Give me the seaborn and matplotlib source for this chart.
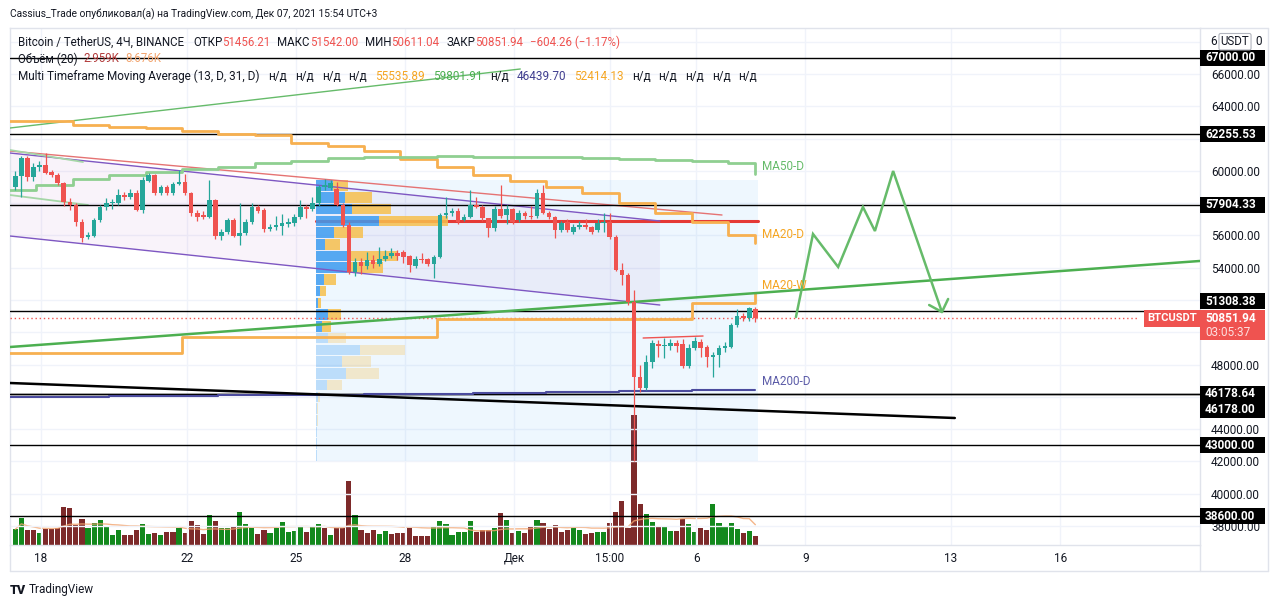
import numpy as np
import pandas as pd
import matplotlib
matplotlib.use("Agg")
import matplotlib.pyplot as plt
import seaborn as sns
from matplotlib.patches import Rectangle, Polygon
from matplotlib.lines import Line2D
from matplotlib.transforms import blended_transform_factory

sns.set_theme(style="white")
plt.rcParams["font.family"] = ["Roboto", "DejaVu Sans"]

# ---------------- data ----------------
T0 = pd.Timestamp("2021-11-18 00:00")
candle_start = "2021-11-17 07:00"

opens = [59020, 59700, 60780, 59640, 60220, 60360, 59950, 59740, 59230, 58090,
         57880, 56850, 55880, 55960, 56950, 57780, 57990, 57990, 58500, 58360,
         58610, 57570, 59390, 59740, 58650, 58980, 58650, 59190, 59330, 58610,
         57370, 57260, 57160, 58190, 55960, 56230, 56950, 55960, 56130, 56850,
         57740, 57570, 56380, 56500, 56580, 56710, 56790, 57120, 57740, 57620,
         57990, 59020, 58920, 58900, 57880, 56640, 53750, 54370, 54100, 54480,
         54200, 54520, 54700, 54900, 54990, 54720, 54100, 54520, 54520, 54230,
         54680, 57260, 57370, 57530, 56950, 57160, 57880, 57780, 57060, 56440,
         57620, 57260, 57610, 56950, 57410, 57200, 57200, 58610, 57410, 57160,
         56340, 56850, 56230, 56500, 56620, 56540, 56340, 56750, 56850, 55920,
         53860, 53550, 51900, 47250, 46530, 48180, 49270, 49150, 49150, 49310,
         49270, 47910, 49000, 49420, 49100, 48490, 48590, 49000, 49100, 50450,
         51010, 50860, 51456.21]
highs = [60000, 60900, 60900, 60500, 60600, 61080, 60050, 59850, 59300, 58300,
         58000, 57000, 56200, 57100, 57900, 58300, 58250, 58900, 58700, 58900,
         58800, 59600, 59850, 59800, 59150, 59100, 59300, 60050, 59800, 58700,
         57600, 57500, 59430, 58250, 56400, 57100, 57100, 57990, 57000, 57990,
         57900, 57700, 56700, 57200, 57300, 57100, 57300, 58200, 57900, 58400,
         59100, 59500, 59450, 59300, 58000, 56800, 54600, 54600, 55000, 54800,
         55300, 55100, 55200, 55100, 55100, 54800, 54700, 54900, 54600, 54800,
         57400, 58400, 57700, 57700, 57300, 58800, 58400, 57900, 57100, 57800,
         59120, 57900, 57700, 57600, 57500, 57800, 58900, 59120, 57500, 57200,
         56900, 57000, 56700, 56900, 57000, 56600, 57000, 57400, 57400, 56000,
         54270, 53700, 52600, 48000, 48600, 49500, 49520, 49620, 49600, 49520,
         49600, 49300, 49700, 49600, 49200, 48800, 49200, 49400, 50600, 51420,
         51200, 51540, 51542.00]
lows = [58800, 58400, 59400, 59400, 60000, 59800, 59600, 59150, 57800, 57600,
        56600, 55610, 55750, 55900, 56800, 57600, 57650, 57900, 58200, 58250,
        57500, 57400, 59300, 58500, 58500, 58500, 58500, 59100, 58500, 57200,
        56900, 57000, 57100, 55800, 55700, 56100, 55900, 55400, 56000, 56700,
        57400, 56200, 56300, 56350, 56000, 56500, 56600, 57000, 57100, 57500,
        57800, 58800, 58800, 57800, 56500, 53600, 53500, 53600, 53900, 54000,
        54100, 54400, 54600, 54500, 54300, 53750, 54000, 54300, 54100, 53340,
        54600, 57100, 57200, 56700, 56900, 57100, 57700, 56900, 55920, 56300,
        57100, 56700, 56700, 56800, 57000, 57000, 57100, 57300, 57000, 55820,
        56200, 56200, 56100, 56400, 56400, 56100, 56200, 56200, 55800, 53800,
        52900, 51700, 42000, 46300, 46400, 47800, 48490, 48380, 48900, 48800,
        47800, 47800, 48900, 48490, 47870, 47250, 47870, 48800, 49000, 50300,
        50700, 50700, 50611.04]
closes = [59700, 60780, 59640, 60260, 60360, 59850, 59740, 59230, 58090, 57880,
          56850, 55820, 56030, 56950, 57780, 58030, 58090, 58500, 58360, 58650,
          57570, 59430, 59740, 58650, 58980, 58650, 59190, 59330, 58610, 57370,
          57160, 57120, 58190, 55960, 56230, 56950, 55960, 56130, 56850, 57740,
          57530, 56380, 56540, 56650, 56750, 56830, 57120, 57740, 57620, 57990,
          59020, 59120, 59220, 57880, 56640, 53750, 54370, 54100, 54480, 54200,
          54520, 54700, 54900, 54750, 54680, 54170, 54520, 54480, 54230, 54680,
          57260, 57410, 57510, 56850, 57120, 57880, 57780, 57060, 56440, 57620,
          57220, 57610, 56850, 57410, 57200, 57120, 58610, 57410, 57160, 56340,
          56790, 56340, 56540, 56640, 56500, 56230, 56750, 56850, 55920, 53860,
          53550, 51900, 47250, 46530, 48180, 49310, 49150, 49210, 49360, 49150,
          47910, 49000, 49480, 49000, 48490, 48590, 49000, 49150, 50450, 51000,
          50860, 51480, 50851.94]

# volume in thousands of BTC, colour as drawn (g = up, r = down)
volume_k = [5.4, 9.2, 5.2, 5.2, 4.0, 5.4, 5.4, 6.0, 13.0, 12.7,
            6.9, 8.9, 6.0, 7.5, 8.6, 6.3, 3.4, 5.2, 3.4, 3.4,
            5.2, 7.2, 3.7, 4.2, 3.4, 4.6, 4.6, 6.0, 4.2, 8.3,
            6.9, 3.8, 10.3, 8.3, 5.8, 5.8, 6.2, 11.4, 7.2, 6.0,
            3.8, 5.2, 4.2, 6.0, 7.9, 4.6, 4.9, 6.3, 4.6, 6.6,
            7.2, 6.0, 3.4, 5.8, 5.8, 22.1, 10.3, 5.2, 4.2, 5.2,
            3.7, 4.9, 3.8, 4.0, 4.2, 6.0, 3.1, 3.1, 3.1, 6.1,
            8.4, 7.2, 3.4, 4.6, 4.6, 8.4, 4.6, 5.2, 5.2, 5.8,
            11.1, 8.6, 4.0, 4.9, 4.2, 6.1, 8.6, 7.5, 5.6, 6.9,
            4.6, 5.2, 5.8, 5.2, 3.7, 4.0, 4.6, 4.6, 7.5, 11.3,
            15.2, 6.0, 44.8, 14.1, 10.7, 7.8, 6.1, 6.6, 4.8, 4.8,
            9.1, 7.2, 4.5, 5.8, 5.2, 14.1, 7.5, 6.6, 7.5, 5.4,
            4.2, 4.8, 2.959]
volume_dir = ("ggrrgrrrrrrr" "gggggg" "rrr" "gg" "r" "g" "rr" "g" "rrrr" "g" "r" "gg"
              "r" "ggg" "rr" "gggggg" "r" "gg" "r" "g" "rrr" "g" "rrr" "gg" "rrrrrrr"
              "ggggggg" "rrr" "g" "r" "g" "r" "g" "rr" "g" "rrrrr" "gg" "rr" "gg"
              "rrrrrr" "ggrggrrggrrgggggrgr")

# Multi timeframe moving averages (daily values, realtime last value)
ma_daily_start = "2021-11-16 21:00"
ma20_d = [63088, 63088, 62840, 62716, 62654, 62468, 62282, 62220, 61725, 61539,
          61229, 60733, 60238, 59742, 59370, 58998, 58627, 58007, 57388, 56830, 56025]
ma50_d = [58813, 59122, 59494, 59742, 59928, 60114, 60238, 60486, 60610, 60796,
          60857, 60857, 60919, 60857, 60857, 60857, 60796, 60733, 60671, 60610, 60486]
ma200_d = [45990, 46000, 46010, 46020, 46040, 46060, 46080, 46100, 46110, 46130,
           46150, 46170, 46190, 46210, 46240, 46270, 46300, 46330, 46360, 46400, 46420]
ma_weekly_start = "2021-11-07 21:00"
ma20_w = [48713, 48713, 49705, 50820, 51811]
ma_last = {"MA20-D": 55535.89, "MA50-D": 59801.91, "MA200-D": 46439.70, "MA20-W": 52414.13}

# fixed range volume profile (top row first)
profile_first_candle = 50
profile_top, profile_bottom = 59450, 42000
profile_up = [17, 29, 36, 63, 18, 9, 31, 31, 8, 4, 2, 12, 6, 12, 44, 26, 30, 11, 2, 1.5, 1, 1, 1, 1]
profile_down = [15, 27, 39, 69, 29, 15, 51, 36, 12, 6, 3, 13, 9, 18, 45, 29, 33, 15, 2, 1, 1, 0.5, 0.5, 0.5]
value_area_rows = 13

# horizontal levels drawn by the author
h_levels = [67000, 62255.53, 57904.33, 51308.38, 46178.64, 46178.00, 43000, 38600]
h_label_shift_px = [0, 0, 0, -10, 0, 16, 0, 0]
last_price = 50851.94
countdown = "03:05:37"

# drawn trend lines: (time, price)
channel_upper = [("2021-11-17 03:30", 61105), ("2021-12-05 00:00", 56892)]
channel_lower = [("2021-11-17 03:30", 55962), ("2021-12-05 00:00", 51687)]
red_trend = [("2021-11-17 03:30", 61229), ("2021-12-06 17:00", 57264)]
green_short1 = [("2021-11-17 03:30", 61291), ("2021-11-19 03:40", 60547)]
green_short2 = [("2021-11-17 03:30", 58503), ("2021-11-19 07:00", 57883)]
green_top = [("2021-11-17 03:30", 62654), ("2021-12-01 04:00", 66310)]
green_support = [("2021-11-17 03:30", 49085), ("2021-12-19 20:00", 54414)]
black_trend = [("2021-11-17 03:30", 46854), ("2021-12-13 02:30", 44686)]
resistance = [("2021-12-04 13:00", 49642), ("2021-12-06 04:30", 49766)]
zigzag = [("2021-12-08 17:45", 50944), ("2021-12-09 05:00", 56086), ("2021-12-09 21:35", 54042),
          ("2021-12-10 13:55", 57759), ("2021-12-10 21:50", 56272), ("2021-12-11 09:50", 59990),
          ("2021-12-12 18:00", 51253)]
arrow_wings = [("2021-12-12 09:35", 51687), ("2021-12-12 18:00", 51253), ("2021-12-12 22:05", 52059)]

date_ticks = ["2021-11-18", "2021-11-22", "2021-11-25", "2021-11-28", "2021-12-01",
              "2021-12-03 15:00", "2021-12-06", "2021-12-09", "2021-12-13", "2021-12-16"]
date_labels = ["18", "22", "25", "28", "Дек", "15:00", "6", "9", "13", "16"]
price_ticks = list(range(38000, 70000, 2000))
price_labels_shown = [66000, 64000, 60000, 56000, 54000, 48000, 44000, 42000, 40000, 38000]
currency = "USDT"

# ---------------- helpers ----------------
def D(s):
    return (pd.Timestamp(s) - T0) / pd.Timedelta("1D")

def seg(pts):
    return [D(p[0]) for p in pts], [p[1] for p in pts]

UP, DN = "#26a69a", "#ef5350"
VUP, VDN = "#13891d", "#7d2a2a"
DARK = "#131722"
GRID = "#f0f3fa"
BORDER = "#e0e3eb"

W, H = 1280, 608
fig = plt.figure(figsize=(W / 100, H / 100), dpi=100)
fig.patch.set_facecolor("white")
L, R, T, B = 10, 1200, 28, 545
rect = [L / W, 1 - B / H, (R - L) / W, (B - T) / H]
axv = fig.add_axes(rect)
ax = fig.add_axes(rect, sharex=axv)
ax.patch.set_visible(False)
axv.set_facecolor("white")

xlim = (-0.852, 31.84)
ylim = (36817, 68850)
ax.set_xlim(*xlim)
ax.set_ylim(*ylim)
px_price = (ylim[1] - ylim[0]) / (B - T)

# ---------- volume ----------
times = pd.date_range(candle_start, periods=len(opens), freq="4h")
x = ((times - T0) / pd.Timedelta("1D")).values.astype(float)
vcols = [VUP if ch == "g" else VDN for ch in volume_dir]
axv.bar(x, volume_k, width=0.14, color=vcols, linewidth=0, zorder=1)
vma = pd.Series(volume_k).rolling(20, min_periods=1).mean()
sns.lineplot(x=x, y=vma.values, ax=axv, color="#f2a46e", lw=1, alpha=0.8, zorder=2)
axv.set_ylim(0, (B - T) / 2.9)
axv.axis("off")

# ---------- grid ----------
ax.set_yticks(price_ticks)
ax.set_yticklabels([f"{p:.2f}" if p in price_labels_shown else "" for p in price_ticks])
ax.set_xticks([D(s) for s in date_ticks])
ax.set_xticklabels(date_labels)
ax.grid(True, color=GRID, lw=1, zorder=0)
ax.set_axisbelow(True)
ax.yaxis.tick_right()
ax.tick_params(axis="y", length=0, pad=8, labelsize=8.5, labelcolor=DARK)
ax.tick_params(axis="x", length=0, pad=5, labelsize=8.5, labelcolor=DARK)
for sp in ax.spines.values():
    sp.set_color(BORDER)
    sp.set_linewidth(1)

# ---------- channel ----------
ux, uy = seg(channel_upper)
lx, ly = seg(channel_lower)
ax.add_patch(Polygon([(ux[0], uy[0]), (ux[1], uy[1]), (lx[1], ly[1]), (lx[0], ly[0])],
                     closed=True, fc="#9c27b0", alpha=0.055, ec="none", zorder=1))
ax.plot(ux, uy, color="#7e57c2", lw=1, zorder=3)
ax.plot(lx, ly, color="#7e57c2", lw=1, zorder=3)
ax.plot(*seg(red_trend), color="#e57373", lw=1, zorder=3)
ax.plot(*seg(green_short1), color="#a5d6a7", lw=1.3, zorder=3)
ax.plot(*seg(green_short2), color="#a5d6a7", lw=1.3, zorder=3)

# ---------- volume profile ----------
half = 1 / 12
px_left = x[profile_first_candle] - half
px_right = x[-1] + half
ax.add_patch(Rectangle((px_left, profile_bottom), px_right - px_left, profile_top - profile_bottom,
                       fc="#2196f3", alpha=0.075, ec="none", zorder=1))
nrows = len(profile_up)
row_h = (profile_top - profile_bottom) / nrows
centers = profile_top - row_h * (np.arange(nrows) + 0.5)
up = np.array(profile_up, float)
dn = np.array(profile_down, float)
scale = 0.30 * (px_right - px_left) / (up + dn).max()
poc = int(np.argmax(up + dn))
ax.plot([px_left, px_right], [centers[poc], centers[poc]], color="#e53935", lw=2.2, zorder=2)
for i in range(nrows):
    a = 0.85 if i < value_area_rows else 0.28
    ax.barh(centers[i], up[i] * scale, left=px_left, height=row_h * 0.9,
            color="#3d9cf0", alpha=a, linewidth=0, zorder=2.5)
    ax.barh(centers[i], dn[i] * scale, left=px_left + up[i] * scale, height=row_h * 0.9,
            color="#f7c04d", alpha=a, linewidth=0, zorder=2.5)

# ---------- horizontal levels ----------
for lv in h_levels:
    ax.axhline(lv, color="black", lw=1, zorder=3)
ax.axhline(last_price, xmax=(1139 - L) / (R - L), color=DN, lw=1, ls=(0, (1, 2)), zorder=3)

# ---------- moving averages ----------
dtimes = pd.date_range(ma_daily_start, periods=len(ma20_d), freq="D")
dx = list(((dtimes - T0) / pd.Timedelta("1D")).values.astype(float)) + [x[-1]]
wtimes = pd.date_range(ma_weekly_start, periods=len(ma20_w), freq="7D")
wx = list(((wtimes - T0) / pd.Timedelta("1D")).values.astype(float)) + [x[-1]]
ORANGE = "#f7b050"
sns.lineplot(x=dx, y=ma20_d + [ma_last["MA20-D"]], ax=ax, color=ORANGE, lw=2,
             drawstyle="steps-post", zorder=3.5)
sns.lineplot(x=dx, y=ma50_d + [ma_last["MA50-D"]], ax=ax, color="#8fcf91", lw=2,
             drawstyle="steps-post", zorder=3.5)
sns.lineplot(x=dx, y=ma200_d + [ma_last["MA200-D"]], ax=ax, color="#4b4b9e", lw=1.5,
             drawstyle="steps-post", zorder=3.5)
sns.lineplot(x=wx, y=ma20_w + [ma_last["MA20-W"]], ax=ax, color=ORANGE, lw=2,
             drawstyle="steps-post", zorder=3.5)
for name, col in [("MA50-D", "#66bb6a"), ("MA20-D", "#f5a623"), ("MA20-W", "#f5a623"), ("MA200-D", "#5c5ca8")]:
    ax.annotate(name, xy=(x[-1], ma_last[name]), xytext=(7, 8), textcoords="offset pixels",
                color=col, fontsize=8.5, ha="left", va="center", zorder=6)

# ---------- trend lines ----------
ax.plot(*seg(green_top), color="#66bb6a", lw=1, zorder=3)
ax.plot(*seg(green_support), color="#4caf50", lw=1.8, zorder=3.6)
ax.plot(*seg(black_trend), color="black", lw=1.8, zorder=3.6)
ax.plot(*seg(resistance), color="#ef5350", lw=1, zorder=3.6)
ax.plot(*seg(zigzag), color="#66bb6a", lw=1.8, zorder=3.6, solid_joinstyle="miter")
ax.plot(*seg(arrow_wings), color="#66bb6a", lw=1.8, zorder=3.6)

# ---------- candles ----------
o, h, l, c = map(np.array, (opens, highs, lows, closes))
ccol = np.where(c >= o, UP, DN)
ax.vlines(x, l, h, colors=ccol, lw=0.9, zorder=4)
ax.bar(x, np.maximum(np.abs(c - o), 60), bottom=np.minimum(o, c), width=0.125,
       color=ccol, linewidth=0, zorder=4.1)

# ---------- right-axis labels ----------
bt = blended_transform_factory(ax.transAxes, ax.transData)
box_w = 65 / (R - L)
def axis_box(price, text, fc, shift_px=0, h_px=16):
    yc = price - shift_px * px_price
    ax.add_patch(Rectangle((1.0, yc - h_px / 2 * px_price), box_w, h_px * px_price, transform=bt,
                           fc=fc, ec="none", clip_on=False, zorder=8))
    ax.text(1.0 + 5 / (R - L), yc, text, transform=bt, color="white", fontsize=8.5,
            fontweight="bold", ha="left", va="center", clip_on=False, zorder=9)

for lv, sh in zip(h_levels, h_label_shift_px):
    axis_box(lv, f"{lv:.2f}", "black", sh)
# last price box with countdown
ax.add_patch(Rectangle((1.0, last_price - 21.5 * px_price), box_w, 30 * px_price, transform=bt,
                       fc=DN, ec="none", clip_on=False, zorder=8))
ax.text(1.0 + 5 / (R - L), last_price, f"{last_price:.2f}", transform=bt, color="white",
        fontsize=8.5, fontweight="bold", ha="left", va="center", clip_on=False, zorder=9)
ax.text(1.0 + 5 / (R - L), last_price - 14 * px_price, countdown, transform=bt, color="#fde0e0",
        fontsize=8.5, ha="left", va="center", clip_on=False, zorder=9)
ax.text(1.0 - 3 / (R - L), last_price, "BTCUSDT", transform=bt, color="white", fontsize=8,
        fontweight="bold", ha="right", va="center", zorder=9,
        bbox=dict(boxstyle="square,pad=0.3", fc=DN, ec="none"))
# currency badge sitting on the 68000 label: only its ends stay visible
ax.text(1.0 + 10 / (R - L), 68000, "6", transform=bt, color=DARK, fontsize=8.5,
        ha="left", va="center", clip_on=False, zorder=9)
ax.text(1.0 + 35 / (R - L), 68000, currency, transform=bt, color=DARK, fontsize=8.3,
        ha="center", va="center", clip_on=False, zorder=9,
        bbox=dict(boxstyle="round,pad=0.15", fc="white", ec="#b2b5be", lw=0.8))
ax.text(1.0 + 62 / (R - L), 68000, "0", transform=bt, color=DARK, fontsize=8.5,
        ha="right", va="center", clip_on=False, zorder=9)

# ---------- frame ----------
def fline(x0, y0, x1, y1):
    fig.add_artist(Line2D([x0 / W, x1 / W], [1 - y0 / H, 1 - y1 / H], color=BORDER, lw=1))
fline(1268, 28, 1268, 571)
fline(10, 571, 1268, 571)
fline(1200, 28, 1268, 28)
fline(10, 545, 10, 571)
fline(1200, 545, 1200, 571)

# ---------- header / legend ----------
renderer = fig.canvas.get_renderer()
def text_runs(x_px, y_px, parts, size, **kw):
    xx = x_px
    for s, col, gap in parts:
        t = fig.text(xx / W, 1 - y_px / H, s, color=col, fontsize=size, ha="left", va="center",
                     zorder=20, **kw)
        xx += t.get_window_extent(renderer).width + gap

text_runs(10, 14, [("Cassius_Trade опубликовал(а) на TradingView.com, Дек 07, 2021 15:54 UTC+3", DARK, 0)], 7.4)
RED = "#ef5350"
text_runs(18, 42, [("Bitcoin / TetherUS, 4Ч, BINANCE", DARK, 9), ("ОТКР", DARK, 0), ("51456.21", RED, 7),
                   ("МАКС", DARK, 0), ("51542.00", RED, 7), ("МИН", DARK, 0), ("50611.04", RED, 7),
                   ("ЗАКР", DARK, 0), ("50851.94", RED, 6), ("−604.26 (−1.17%)", RED, 0)], 8.3)
text_runs(18, 59, [("Объём (20)", DARK, 6), ("2.959K", "#b23b3b", 6), ("8.676K", "#f2a46e", 0)], 8.3)
nd = ("н/д", DARK, 8)
text_runs(18, 76, [("Multi Timeframe Moving Average (13, D, 31, D)", DARK, 9), nd, nd, nd, nd,
                   ("55535.89", "#f5a623", 8), ("59801.91", "#4caf50", 8), nd,
                   ("46439.70", "#3f3d8f", 8), ("52414.13", "#f5a623", 8), nd, nd, nd, nd, nd], 8.5)

fig.text(10 / W, 1 - 590 / H, "TV", color=DARK, fontsize=9, fontweight="heavy", ha="left", va="center")
fig.text(29 / W, 1 - 590 / H, "TradingView", color=DARK, fontsize=8.5, ha="left", va="center")

fig.savefig("out.png", dpi=100, facecolor="white")
